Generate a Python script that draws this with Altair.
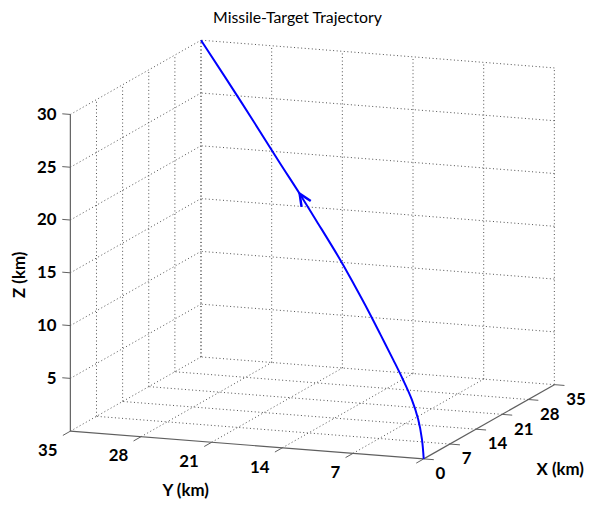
import altair as alt
import pandas as pd
import math

# ---------------- data (km) ----------------
traj_x = [0, 0.28, 0.87, 1.88, 3.25, 4.78, 6.75, 8.74, 10.84, 13.02, 16.8, 19.5, 22.71, 28.62, 35.0]
traj_y = [0, 0.28, 0.87, 1.88, 3.25, 4.78, 6.75, 8.74, 10.84, 13.02, 16.8, 19.5, 22.71, 28.62, 35.0]
traj_z = [0, 1.80, 3.51, 5.11, 6.60, 8.06, 9.86, 11.65, 13.41, 15.16, 17.86, 19.74, 21.86, 25.85, 30.0]
arrow_index = 11  # arrowhead drawn at this trajectory sample

x_ticks = [0, 7, 14, 21, 28, 35]
y_ticks = [0, 7, 14, 21, 28, 35]
z_ticks = [5, 10, 15, 20, 25, 30]
x_tick_labels = ["0", "7", "14", "21", "28", "35"]
y_tick_labels = ["", "7", "14", "21", "28", "35"]
z_tick_labels = ["5", "10", "15", "20", "25", "30"]
x_lim = [0, 35]
y_lim = [0, 35]
z_lim = [0, 30]

title_text = "Missile-Target Trajectory"
x_title = "X (km)"
y_title = "Y (km)"
z_title = "Z (km)"

# ---------------- view / projection ----------------
ORIGIN = (428.0, 461.0)              # page position of (0,0,0)
EX = (132.0 / 35, -75.0 / 35)        # screen step per km along x
EY = (-357.0 / 35, -28.0 / 35)       # screen step per km along y
EZ = (0.0, -320.0 / 30)              # screen step per km along z


def proj(x, y, z):
    return (ORIGIN[0] + EX[0] * x + EY[0] * y + EZ[0] * z,
            ORIGIN[1] + EX[1] * x + EY[1] * y + EZ[1] * z)


W, H = 587, 493
XS = alt.Scale(domain=[8, 8 + W], nice=False, zero=False)
YS = alt.Scale(domain=[8, 8 + H], nice=False, zero=False, reverse=True)


def seg(p, q):
    a, b = proj(*p), proj(*q)
    return {"px": a[0], "py": a[1], "px2": b[0], "py2": b[1]}


# grid segments (back walls and floor)
grid = []
x0, x1 = x_lim
y0, y1 = y_lim
z0, z1 = z_lim
for xv in x_ticks:            # wall y = ymax, vertical lines
    if xv != x0:
        grid.append(seg((xv, y1, z0), (xv, y1, z1)))
for yv in y_ticks:            # wall x = xmax, vertical lines
    grid.append(seg((x1, yv, z0), (x1, yv, z1)))
for zv in z_ticks:            # horizontal lines on both walls
    grid.append(seg((x0, y1, zv), (x1, y1, zv)))
    grid.append(seg((x1, y0, zv), (x1, y1, zv)))
for xv in x_ticks:            # floor lines parallel to y
    if xv != x0:
        grid.append(seg((xv, y0, z0), (xv, y1, z0)))
for yv in y_ticks:            # floor lines parallel to x
    if yv != y0:
        grid.append(seg((x0, yv, z0), (x1, yv, z0)))
grid_df = pd.DataFrame(grid)

axes_df = pd.DataFrame([
    seg((x0, y0, z0), (x1, y0, z0)),
    seg((x0, y0, z0), (x0, y1, z0)),
    seg((x0, y1, z0), (x0, y1, z1)),
])

ticks = []
for xv in x_ticks:
    ticks.append(seg((xv, y0, z0), (xv, y0 - 1.0, z0)))
for yv in y_ticks:
    ticks.append(seg((x0, yv, z0), (x0 - 2.0, yv, z0)))
for zv in z_ticks:
    ticks.append(seg((x0, y1, zv), (x0, y1 + 0.8, zv)))
ticks_df = pd.DataFrame(ticks)

traj_pts = [proj(a, b, c) for a, b, c in zip(traj_x, traj_y, traj_z)]
traj_df = pd.DataFrame({"px": [p[0] for p in traj_pts], "py": [p[1] for p in traj_pts],
                        "i": list(range(len(traj_pts)))})

# arrowhead at sample arrow_index, pointing along travel direction
tip = traj_pts[arrow_index]
prev = traj_pts[arrow_index - 1]
nxt = traj_pts[arrow_index + 1]
dx, dy = nxt[0] - prev[0], nxt[1] - prev[1]
n = math.hypot(dx, dy)
bx, by = -dx / n, -dy / n
HEAD_LEN, HEAD_ANG = 13.5, math.radians(24)
wings = []
for sgn in (1, -1):
    c, s = math.cos(sgn * HEAD_ANG), math.sin(sgn * HEAD_ANG)
    wx, wy = bx * c - by * s, bx * s + by * c
    wings.append((tip[0] + HEAD_LEN * wx, tip[1] + HEAD_LEN * wy))
arrow_df = pd.DataFrame({"px": [wings[0][0], tip[0], wings[1][0]],
                         "py": [wings[0][1], tip[1], wings[1][1]], "i": [0, 1, 2]})

xl = [proj(v, y0, z0) for v in x_ticks]
xlab_df = pd.DataFrame({"px": [p[0] + 12 for p in xl], "py": [p[1] + 15.5 for p in xl], "t": x_tick_labels})
yl = [proj(x0, v, z0) for v in y_ticks]
ylab_df = pd.DataFrame({"px": [p[0] - 13 for p in yl], "py": [p[1] + 20 for p in yl], "t": y_tick_labels})
zl = [proj(x0, y1, v) for v in z_ticks]
zlab_df = pd.DataFrame({"px": [p[0] - 14 for p in zl], "py": [p[1] + 0.5 for p in zl], "t": z_tick_labels})

xm = proj((x0 + x1) / 2, y0, z0)
ym = proj(x0, (y0 + y1) / 2, z0)
zm = proj(x0, y1, (z0 + z1) / 2)
xt_df = pd.DataFrame({"px": [xm[0] + 72], "py": [xm[1] + 48.5], "t": [x_title]})
yt_df = pd.DataFrame({"px": [ym[0] - 62], "py": [ym[1] + 46], "t": [y_title]})
zt_df = pd.DataFrame({"px": [zm[0] - 51], "py": [zm[1] + 2], "t": [z_title]})
title_df = pd.DataFrame({"px": [300.5], "py": [20.5], "t": [title_text]})

FONT = "Lato"
GRID_COLOR = "#4d4d4d"
AXIS_COLOR = "#5f5f5f"


def pos(extra=False):
    enc = dict(x=alt.X("px:Q", scale=XS, axis=None), y=alt.Y("py:Q", scale=YS, axis=None))
    if extra:
        enc.update(x2="px2:Q", y2="py2:Q")
    return enc


grid_layer = alt.Chart(grid_df).mark_rule(color=GRID_COLOR, strokeWidth=1, strokeDash=[1, 2.6]).encode(**pos(True))
axes_layer = alt.Chart(axes_df).mark_rule(color=AXIS_COLOR, strokeWidth=1.2).encode(**pos(True))
ticks_layer = alt.Chart(ticks_df).mark_rule(color=AXIS_COLOR, strokeWidth=1).encode(**pos(True))
traj_layer = alt.Chart(traj_df).mark_line(color="#0000ff", strokeWidth=2, interpolate="catmull-rom").encode(
    order="i:Q", **pos())
arrow_layer = alt.Chart(arrow_df).mark_line(color="#0000ff", strokeWidth=2.5, strokeJoin="miter").encode(
    order="i:Q", **pos())


def text_layer(df, align, angle=0, size=17, weight="bold", baseline="middle"):
    return alt.Chart(df).mark_text(font=FONT, fontSize=size, fontWeight=weight, color="#000000",
                                   align=align, baseline=baseline, angle=angle).encode(
        text="t:N", **pos())


chart = alt.layer(
    grid_layer, axes_layer, ticks_layer, traj_layer, arrow_layer,
    text_layer(xlab_df, "left"), text_layer(ylab_df, "right"), text_layer(zlab_df, "right"),
    text_layer(xt_df, "center"), text_layer(yt_df, "center"), text_layer(zt_df, "center", 270),
    text_layer(title_df, "center", size=16, weight="normal", baseline="alphabetic"),
).properties(
    width=W, height=H,
    autosize=alt.AutoSizeParams(type="none"),
    padding=0,
).configure(background="white", view=alt.ViewConfig(stroke=None))

chart.save("out.html", embed_options={"renderer": "svg", "actions": False})
